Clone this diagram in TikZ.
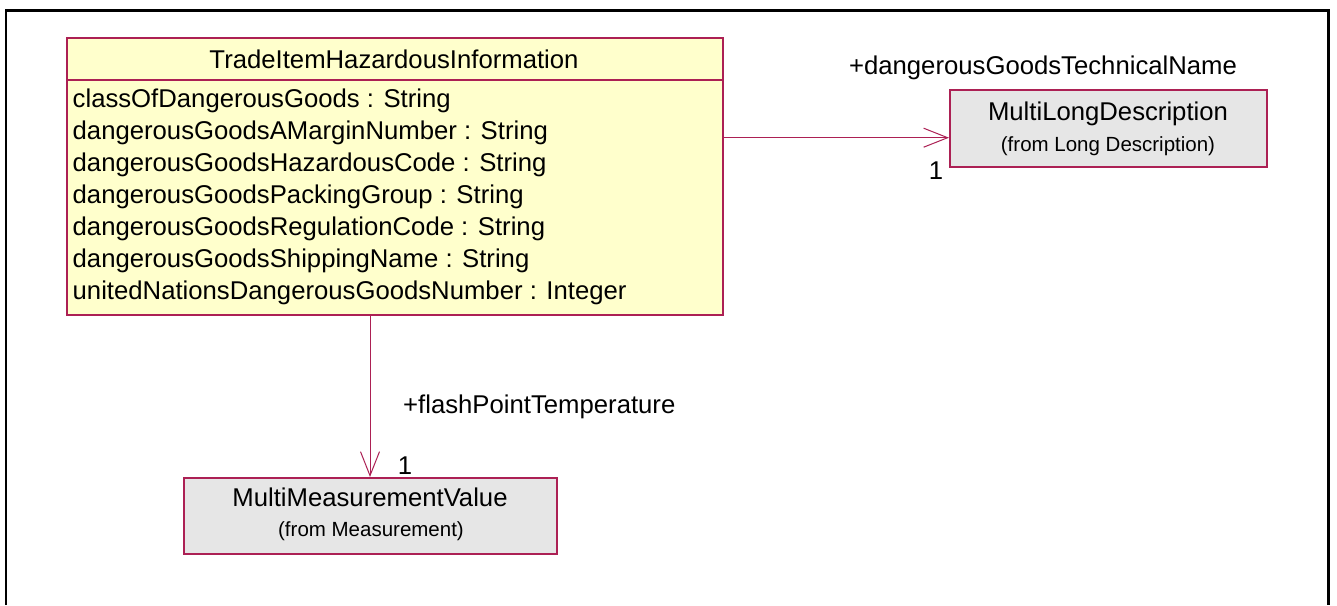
\documentclass[tikz,border=0pt]{standalone}
\usepackage{fontspec}
\setmainfont{Liberation Sans}
\usetikzlibrary{arrows.meta}
\definecolor{roseline}{RGB}{172,32,84}
\definecolor{classfill}{RGB}{255,255,204}
\definecolor{reffill}{RGB}{230,230,230}
\tikzset{
  classbox/.style={draw=roseline, line width=1.5pt, fill=classfill, inner sep=0pt, anchor=north west},
  refbox/.style={draw=roseline, line width=1.5pt, fill=reffill, inner sep=0pt, anchor=north west},
  bigtxt/.style={font=\fontsize{25.7}{30}\selectfont, inner sep=0pt},
  smalltxt/.style={font=\fontsize{20.5}{24}\selectfont, inner sep=0pt},
  attr/.style={bigtxt, anchor=base west},
  assoc/.style={draw=roseline, line width=1pt, -{Straight Barb[length=24pt, width=19pt, line width=1pt]}},
  frameline/.style={draw=black, line width=2.5pt}
}
\begin{document}
\begin{tikzpicture}[x=1pt, y=-1pt]
\useasboundingbox (0,0) rectangle (1337,605);
\fill[white] (0,0) rectangle (1337,605);
\draw[frameline] (6,605) -- (6,10.5) -- (1328.5,10.5) -- (1328.5,605);

% main class
\node[classbox, minimum width=656pt, minimum height=277pt] (hz) at (66,37) {};
\coordinate (hl) at (0,80);
\draw[draw=roseline, line width=1.5pt] (hz.west |- hl) -- (hz.east |- hl);
\node[bigtxt, anchor=base] (title) at (394,68) {TradeItemHazardousInformation};
\node[attr] (a1) at (72.5,107.3) {classOfDangerousGoods : String};
\node[attr] (a2) at (72.5,139.3) {dangerousGoodsAMarginNumber : String};
\node[attr] (a3) at (72.5,171.2) {dangerousGoodsHazardousCode : String};
\node[attr] (a4) at (72.5,203.2) {dangerousGoodsPackingGroup : String};
\node[attr] (a5) at (72.5,235.1) {dangerousGoodsRegulationCode : String};
\node[attr] (a6) at (72.5,267.1) {dangerousGoodsShippingName : String};
\node[attr] (a7) at (72.5,299.0) {unitedNationsDangerousGoodsNumber : Integer};

% MultiLongDescription
\node[refbox, minimum width=317pt, minimum height=77pt] (mld) at (949,89) {};
\node[bigtxt, anchor=base] (mldn) at (1108,120) {MultiLongDescription};
\node[smalltxt, anchor=base] (mldf) at (1108,151) {(from Long Description)};

% MultiMeasurementValue
\node[refbox, minimum width=373pt, minimum height=76pt] (mmv) at (183,477) {};
\node[bigtxt, anchor=base] (mmvn) at (370,506.7) {MultiMeasurementValue};
\node[smalltxt, anchor=base] (mmvf) at (371,536.5) {(from Measurement)};

% associations
\coordinate (hr) at (0,137.7);
\draw[assoc] (hz.east |- hr) -- (mld.west |- hr);
\node[bigtxt, anchor=base] (r1) at (1043,74) {+dangerousGoodsTechnicalName};
\node[bigtxt, anchor=base] (m1) at (936,179) {1};

\coordinate (vr) at (370,0);
\draw[assoc] (hz.south -| vr) -- (mmv.north -| vr);
\node[bigtxt, anchor=base west] (r2) at (403,413.3) {+flashPointTemperature};
\node[bigtxt, anchor=base] (m2) at (405,474.5) {1};
\end{tikzpicture}
\end{document}
